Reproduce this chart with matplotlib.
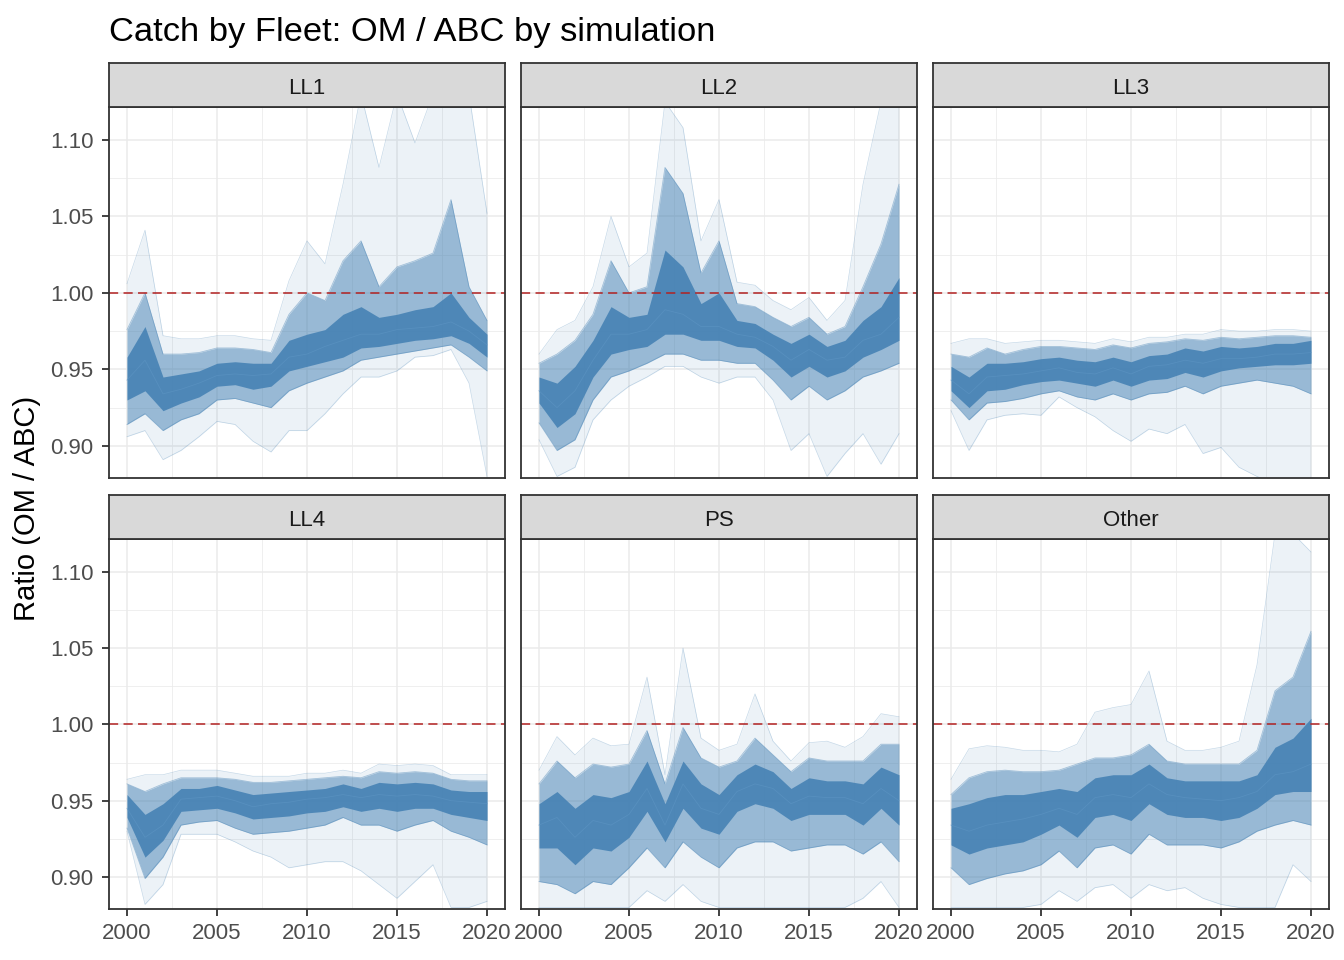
import numpy as np
import matplotlib.pyplot as plt

years = list(range(2000, 2021))
fleets = ['LL1', 'LL2', 'LL3', 'LL4', 'PS', 'Other']

# summary curves (min, 5%, 25%, median, 75%, 95%, max)
LL1_lo  = [.906, .910, .891, .897, .906, .916, .914, .903, .896, .910, .910, .921, .934, .945, .945, .949, .958, .959, .963, .941, .880]
LL1_q05 = [.914, .921, .910, .917, .921, .930, .931, .928, .925, .936, .941, .945, .949, .956, .958, .960, .962, .964, .966, .958, .949]
LL1_q25 = [.930, .936, .923, .928, .932, .939, .940, .937, .939, .949, .952, .955, .958, .964, .965, .967, .969, .970, .972, .967, .958]
LL1_q50 = [.943, .956, .934, .937, .941, .946, .947, .946, .947, .958, .960, .965, .969, .973, .973, .976, .977, .978, .981, .975, .966]
LL1_q75 = [.958, .978, .945, .947, .949, .954, .955, .954, .954, .969, .973, .976, .986, .991, .984, .986, .989, .991, 1.000, .984, .973]
LL1_q95 = [.976, 1.000, .960, .960, .961, .964, .964, .963, .961, .986, 1.000, .995, 1.021, 1.034, 1.004, 1.017, 1.021, 1.026, 1.061, 1.004, .982]
LL1_hi  = [1.006, 1.041, .972, .970, .970, .972, .972, .970, .969, 1.008, 1.034, 1.019, 1.071, 1.130, 1.082, 1.130, 1.098, 1.130, 1.140, 1.130, 1.052]

LL2_lo  = [.904, .880, .886, .917, .930, .939, .945, .952, .952, .945, .941, .945, .945, .930, .897, .908, .880, .895, .908, .888, .908]
LL2_q05 = [.915, .897, .904, .930, .945, .949, .954, .960, .960, .956, .956, .954, .954, .943, .930, .939, .930, .936, .945, .949, .954]
LL2_q25 = [.928, .912, .921, .945, .960, .963, .965, .973, .973, .969, .969, .965, .964, .956, .945, .952, .945, .949, .958, .963, .969]
LL2_q50 = [.936, .925, .936, .956, .973, .973, .976, .989, .986, .978, .978, .973, .971, .965, .956, .963, .956, .958, .969, .973, .984]
LL2_q75 = [.945, .941, .952, .969, .991, .984, .986, 1.028, 1.017, .993, 1.000, .982, .980, .973, .967, .973, .965, .969, .982, .991, 1.010]
LL2_q95 = [.954, .960, .969, .986, 1.021, 1.000, 1.004, 1.082, 1.065, 1.013, 1.034, .993, .991, .984, .978, .984, .973, .978, 1.004, 1.032, 1.071]
LL2_hi  = [.960, .976, .982, 1.004, 1.050, 1.017, 1.026, 1.125, 1.108, 1.034, 1.061, 1.007, 1.005, .995, .989, .997, .982, .995, 1.071, 1.125, 1.125]

LL3_lo  = [.923, .897, .917, .920, .921, .920, .932, .925, .919, .910, .903, .911, .908, .914, .895, .899, .886, .880, .875, .872, .870]
LL3_q05 = [.930, .917, .928, .929, .931, .934, .936, .932, .930, .934, .930, .934, .935, .939, .934, .939, .941, .943, .941, .939, .934]
LL3_q25 = [.936, .925, .936, .937, .940, .942, .943, .941, .939, .943, .939, .943, .944, .948, .945, .949, .951, .952, .953, .953, .954]
LL3_q50 = [.943, .934, .945, .946, .947, .949, .951, .948, .947, .951, .947, .952, .953, .956, .954, .957, .957, .958, .960, .960, .961]
LL3_q75 = [.952, .945, .954, .954, .955, .957, .958, .956, .955, .958, .955, .959, .960, .964, .962, .965, .964, .965, .967, .967, .969]
LL3_q95 = [.960, .958, .964, .960, .963, .965, .965, .964, .963, .966, .964, .967, .968, .970, .969, .971, .970, .971, .972, .972, .971]
LL3_hi  = [.967, .970, .970, .967, .968, .969, .969, .968, .967, .970, .968, .971, .971, .973, .973, .976, .975, .975, .976, .976, .975]

LL4_lo  = [.930, .882, .895, .928, .928, .928, .923, .917, .913, .906, .908, .910, .910, .904, .895, .886, .897, .908, .880, .880, .884]
LL4_q05 = [.932, .899, .913, .934, .936, .937, .932, .928, .929, .930, .932, .934, .939, .934, .934, .930, .934, .937, .930, .926, .921]
LL4_q25 = [.939, .913, .924, .943, .944, .945, .942, .938, .939, .940, .942, .943, .946, .943, .945, .943, .945, .945, .941, .939, .937]
LL4_q50 = [.945, .926, .934, .951, .952, .953, .950, .946, .948, .949, .951, .952, .954, .952, .954, .953, .954, .953, .950, .949, .948]
LL4_q75 = [.954, .941, .948, .958, .958, .960, .957, .954, .955, .956, .957, .958, .961, .958, .962, .961, .962, .961, .957, .956, .956]
LL4_q95 = [.961, .956, .961, .965, .965, .965, .964, .962, .962, .963, .964, .965, .966, .965, .969, .968, .969, .968, .964, .963, .963]
LL4_hi  = [.964, .967, .967, .970, .970, .970, .968, .966, .966, .966, .968, .968, .970, .968, .974, .973, .974, .973, .967, .967, .967]

PS_lo  = [.880, .880, .880, .880, .880, .880, .891, .884, .895, .884, .880, .880, .880, .880, .880, .880, .880, .880, .886, .897, .880]
PS_q05 = [.897, .895, .889, .897, .895, .906, .919, .906, .923, .913, .906, .919, .923, .923, .917, .919, .921, .921, .915, .923, .910]
PS_q25 = [.919, .919, .908, .919, .917, .926, .943, .923, .945, .932, .928, .943, .948, .945, .937, .941, .941, .941, .934, .945, .934]
PS_q50 = [.934, .939, .926, .937, .934, .941, .958, .934, .961, .945, .941, .956, .961, .958, .948, .953, .952, .952, .948, .958, .950]
PS_q75 = [.948, .956, .945, .954, .952, .956, .976, .948, .976, .961, .954, .967, .974, .969, .958, .965, .963, .963, .961, .972, .967]
PS_q95 = [.961, .976, .965, .974, .972, .974, .996, .961, .998, .978, .972, .976, .991, .980, .969, .978, .976, .976, .976, .987, .987]
PS_hi  = [.970, .992, .980, .991, .986, .987, 1.031, .967, 1.050, .991, .983, .987, 1.020, .989, .976, .988, .989, .985, .992, 1.007, 1.005]

Other_lo  = [.880, .880, .880, .880, .880, .882, .891, .884, .893, .895, .886, .895, .891, .893, .886, .882, .880, .880, .880, .908, .897]
Other_q05 = [.906, .895, .899, .902, .904, .908, .917, .906, .919, .921, .915, .928, .921, .921, .921, .919, .923, .930, .934, .937, .934]
Other_q25 = [.921, .915, .919, .921, .923, .928, .934, .926, .939, .941, .937, .948, .941, .939, .939, .937, .939, .945, .954, .956, .956]
Other_q50 = [.934, .930, .934, .936, .938, .941, .945, .941, .952, .954, .952, .961, .954, .952, .951, .950, .952, .956, .967, .969, .974]
Other_q75 = [.945, .948, .952, .954, .954, .956, .958, .956, .965, .967, .967, .974, .965, .963, .963, .963, .963, .967, .985, .991, 1.004]
Other_q95 = [.954, .965, .969, .970, .969, .969, .970, .974, .978, .978, .980, .987, .976, .974, .974, .974, .974, .983, 1.022, 1.031, 1.061]
Other_hi  = [.964, .984, .986, .985, .983, .983, .982, .987, 1.008, 1.011, 1.013, 1.035, .989, .983, .983, .985, .989, 1.039, 1.125, 1.125, 1.113]

curves = {
    'LL1': [LL1_lo, LL1_q05, LL1_q25, LL1_q50, LL1_q75, LL1_q95, LL1_hi],
    'LL2': [LL2_lo, LL2_q05, LL2_q25, LL2_q50, LL2_q75, LL2_q95, LL2_hi],
    'LL3': [LL3_lo, LL3_q05, LL3_q25, LL3_q50, LL3_q75, LL3_q95, LL3_hi],
    'LL4': [LL4_lo, LL4_q05, LL4_q25, LL4_q50, LL4_q75, LL4_q95, LL4_hi],
    'PS': [PS_lo, PS_q05, PS_q25, PS_q50, PS_q75, PS_q95, PS_hi],
    'Other': [Other_lo, Other_q05, Other_q25, Other_q50, Other_q75, Other_q95, Other_hi],
}

plt.rcParams['font.family'] = ['Liberation Sans', 'DejaVu Sans']
steel = '#4682B4'
W, H = 1344, 960
fig = plt.figure(figsize=(W / 100, H / 100), dpi=100)

col_x = [109, 521, 933]
pw = 396
rows = [(107, 478), (539, 909)]

for i, f in enumerate(fleets):
    r, c = divmod(i, 3)
    top, bot = rows[r]
    ax = fig.add_axes([col_x[c] / W, 1 - bot / H, pw / W, (bot - top) / H])
    lo, q05, q25, q50, q75, q95, hi = [np.array(v) for v in curves[f]]

    ax.fill_between(years, lo, hi, color=steel, alpha=0.1, lw=0)
    ax.fill_between(years, q05, q95, color=steel, alpha=0.5, lw=0)
    ax.fill_between(years, q25, q75, color=steel, alpha=0.9, lw=0)
    for v in (lo, hi):
        ax.plot(years, v, color=steel, lw=0.5, alpha=0.3)
    for v in (q05, q95):
        ax.plot(years, v, color=steel, lw=0.6, alpha=0.45)
    ax.plot(years, q50, color='#5B93C2', lw=0.6, alpha=0.7)

    ax.axhline(1.0, color='#B22222', lw=1.1, dashes=(6, 3.5))

    ax.set_xlim(1999, 2021)
    ax.set_ylim(0.879, 1.1215)
    ax.set_xticks([2000, 2005, 2010, 2015, 2020])
    ax.set_xticks([2002.5, 2007.5, 2012.5, 2017.5], minor=True)
    ax.set_yticks([0.90, 0.95, 1.00, 1.05, 1.10])
    ax.set_yticks([0.925, 0.975, 1.025, 1.075], minor=True)
    ax.grid(which='major', color='#EBEBEB', lw=1.1)
    ax.grid(which='minor', color='#EBEBEB', lw=0.55)
    ax.set_axisbelow(True)
    for s in ax.spines.values():
        s.set_color('#333333')
        s.set_linewidth(1.3)
    ax.tick_params(which='minor', length=0)
    ax.tick_params(which='major', length=4.8, width=1.3, color='#333333',
                   labelsize=16, labelcolor='#4D4D4D')
    ax.tick_params(axis='y', pad=6.5)
    ax.tick_params(axis='x', pad=5.5)
    ax.set_yticklabels(['0.90', '0.95', '1.00', '1.05', '1.10'])
    if c != 0:
        ax.tick_params(axis='y', length=0, labelleft=False)
    if r != 1:
        ax.tick_params(axis='x', length=0, labelbottom=False)

    # strip
    sax = fig.add_axes([col_x[c] / W, 1 - top / H, pw / W, 44 / H])
    sax.set_facecolor('#D9D9D9')
    sax.set_xticks([])
    sax.set_yticks([])
    for s in sax.spines.values():
        s.set_color('#333333')
        s.set_linewidth(1.3)
    sax.text(0.5, 0.42, f, ha='center', va='center', fontsize=16, color='#1A1A1A',
             transform=sax.transAxes)

fig.text(109 / W, 1 - 33 / H, 'Catch by Fleet: OM / ABC by simulation',
         ha='left', va='center', fontsize=24.8, color='black')
fig.text(27 / W, 1 - 508 / H, 'Ratio (OM / ABC)', rotation=90,
         ha='center', va='center', fontsize=21, color='black')

fig.savefig('out.png', dpi=100, facecolor='white')
